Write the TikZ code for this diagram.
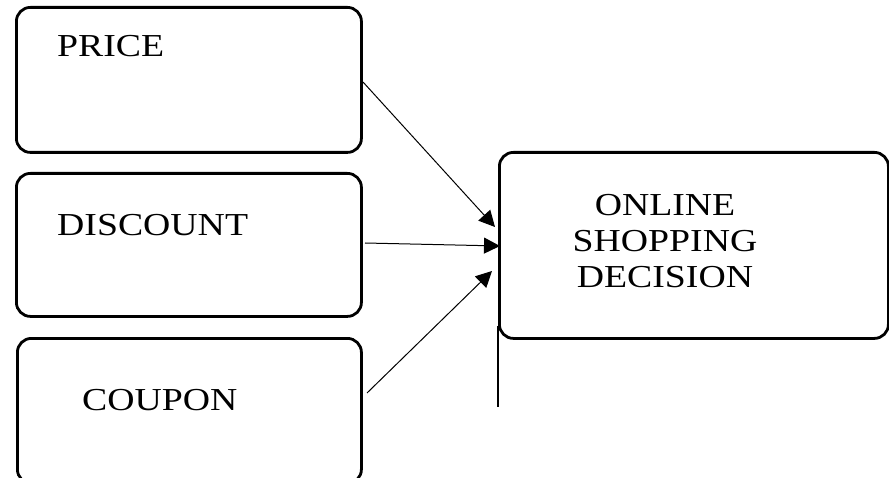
\documentclass[tikz,border=0pt]{standalone}
\usepackage{fontspec}
\setmainfont{Liberation Serif}[FakeStretch=1.18]
\usetikzlibrary{arrows.meta}
\begin{document}
\begin{tikzpicture}[x=1bp,y=-1bp,
  factorbox/.style={draw, line width=2.8bp, rounded corners=14bp, anchor=north west, inner sep=0pt},
  lbl/.style={anchor=base west, inner sep=0pt, font=\fontsize{32bp}{36bp}\selectfont},
  link/.style={line width=1bp, -{Triangle[length=16bp,width=16bp]}}]
\useasboundingbox (0,0) rectangle (889,478);

% input factors
\node[factorbox, minimum width=345bp, minimum height=145bp] (price) at (15,6) {};
\node[factorbox, minimum width=345bp, minimum height=143bp] (discount) at (15,172) {};
\node[factorbox, minimum width=344bp, minimum height=145bp] (coupon) at (16,337) {};
\node[lbl] (pricetxt) at (57,57) {PRICE};
\node[lbl] (discounttxt) at (57,236) {DISCOUNT};
\node[lbl] (coupontxt) at (82,410) {COUPON};

% outcome
\node[factorbox, minimum width=389bp, minimum height=186bp] (online) at (498,151) {};
\node[inner sep=0pt, align=center, font=\fontsize{32bp}{36bp}\selectfont] (onlinetxt) at (665,241)
  {ONLINE\\SHOPPING\\DECISION};

% connector end points
\coordinate (ps) at (363,82);
\coordinate (pe) at (495,227);
\coordinate (ds) at (365,243);
\coordinate (de) at (500,246);
\coordinate (cs) at (367,393);
\coordinate (ce) at (492,271);
\coordinate (tail) at (498,407);

\draw[link] (ps) -- (pe);
\draw[link] (ds) -- (de);
\draw[link] (cs) -- (ce);
\draw[line width=1.5bp] ([yshift=14bp]online.south west) -- (tail);
\end{tikzpicture}
\end{document}
